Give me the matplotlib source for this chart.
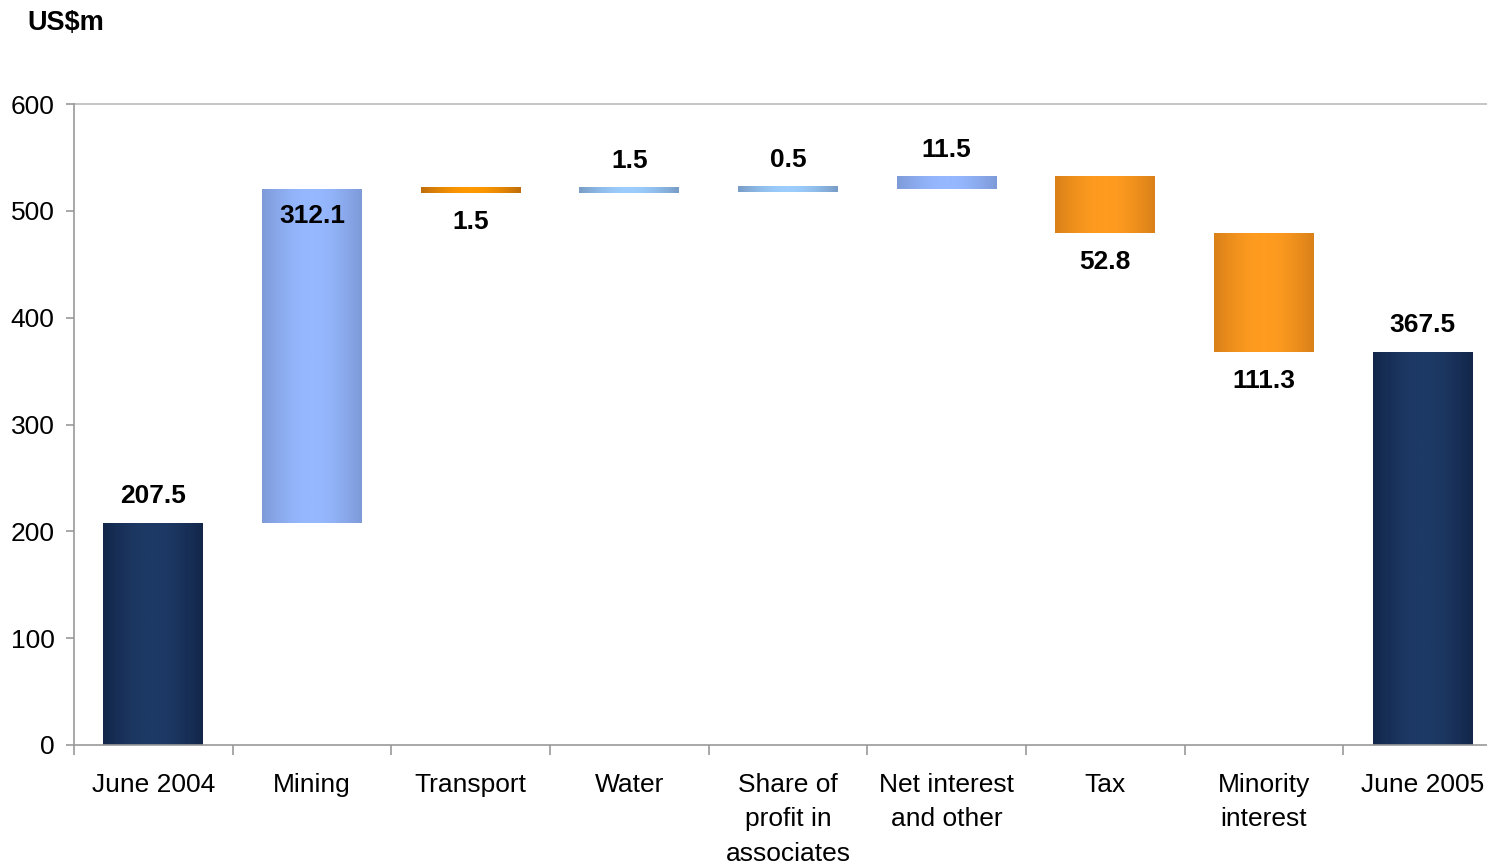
import numpy as np
import matplotlib
matplotlib.use("Agg")
import matplotlib.pyplot as plt
from matplotlib.colors import LinearSegmentedColormap

plt.rcParams['font.family'] = ['Liberation Sans', 'DejaVu Sans']

categories = ["June 2004", "Mining", "Transport", "Water", "Share of\nprofit in\nassociates",
              "Net interest\nand other", "Tax", "Minority\ninterest", "June 2005"]
changes = [207.5, 312.1, -1.5, 1.5, 0.5, 11.5, -52.8, -111.3, 367.5]
kinds = ["total", "up", "down", "up", "up", "up", "down", "down", "total"]
labels = ["207.5", "312.1", "1.5", "1.5", "0.5", "11.5", "52.8", "111.3", "367.5"]
# label anchor: "top" above bar, "bottom" below bar, "inside" just under the top
label_pos = ["top", "inside", "bottom", "top", "top", "top", "bottom", "bottom", "top"]

# gradient palettes (edge, centre) for each kind of bar
palettes = {
    "total": ("#13264a", "#1d3a66"),
    "up": ("#7e9ad8", "#96b8ff"),
    "down": ("#d98018", "#ff9c20"),
}
thin_palettes = {
    "up": ("#789dc6", "#9ccdfd"),
    "down": ("#bf6e0c", "#ff9900"),
}

fig = plt.figure(figsize=(14.87, 8.68), dpi=100)
ax = fig.add_axes([74 / 1487, (868 - 745) / 868, 1428 / 1487, 641 / 868])

width = 0.63
min_h = 4.8  # minimum drawn thickness so tiny movements stay visible

# horizontal gradient profile: dark at edges, light in the centre
xs = np.linspace(0, 1, 256)
profile = np.sin(np.pi * xs) ** 1.0
grad = profile[np.newaxis, :]

running = 0.0
for i, (chg, kind) in enumerate(zip(changes, kinds)):
    if kind == "total":
        lo, hi = 0.0, chg
        running = chg
    else:
        start = running
        running = running + chg
        lo, hi = min(start, running), max(start, running)
    if hi - lo < min_h and kind != "total":
        mid = (hi + lo) / 2
        dlo, dhi = mid - min_h / 2, mid + min_h / 2
        pal = thin_palettes[kind]
    else:
        dlo, dhi = lo, hi
        pal = palettes[kind]
    cmap = LinearSegmentedColormap.from_list(f"g{i}", list(pal))
    ax.imshow(grad, cmap=cmap, aspect="auto", interpolation="bilinear",
              extent=[i - width / 2, i + width / 2, dlo, dhi], zorder=2, vmin=0, vmax=1)

    if label_pos[i] == "top":
        y, off = dhi, 19.5
    elif label_pos[i] == "bottom":
        y, off = dlo, -20.5
    else:
        y, off = dhi, -19
    ax.annotate(labels[i], (i, y), xytext=(0, off), textcoords="offset points",
                ha="center", va="center", fontsize=19, fontweight="bold", zorder=3)

ax.set_xlim(-0.5, len(categories) - 0.5)
ax.set_ylim(0, 600)
ax.set_yticks(range(0, 601, 100))
ax.tick_params(axis="y", labelsize=19, length=6, color="#999999", width=1.2, pad=8)

ax.set_xticks(np.arange(len(categories)))
ax.set_xticklabels(categories, fontsize=19, linespacing=1.55, va="top")
ax.tick_params(axis="x", length=0, pad=20)
ax.set_xticks(np.arange(len(categories) + 1) - 0.5, minor=True)
ax.tick_params(axis="x", which="minor", length=7, color="#999999", width=1.2)

for s in ["left", "bottom"]:
    ax.spines[s].set_color("#999999")
    ax.spines[s].set_linewidth(1.2)
ax.spines["right"].set_visible(False)
ax.spines["top"].set_visible(False)
ax.axhline(600, color="#bbbbbb", lw=1.2, zorder=1, clip_on=False)

fig.text(27 / 1487, 1 - 23 / 868, "US$m", fontsize=19.5, fontweight="bold", ha="left", va="center")

fig.savefig("out.png", dpi=100)
